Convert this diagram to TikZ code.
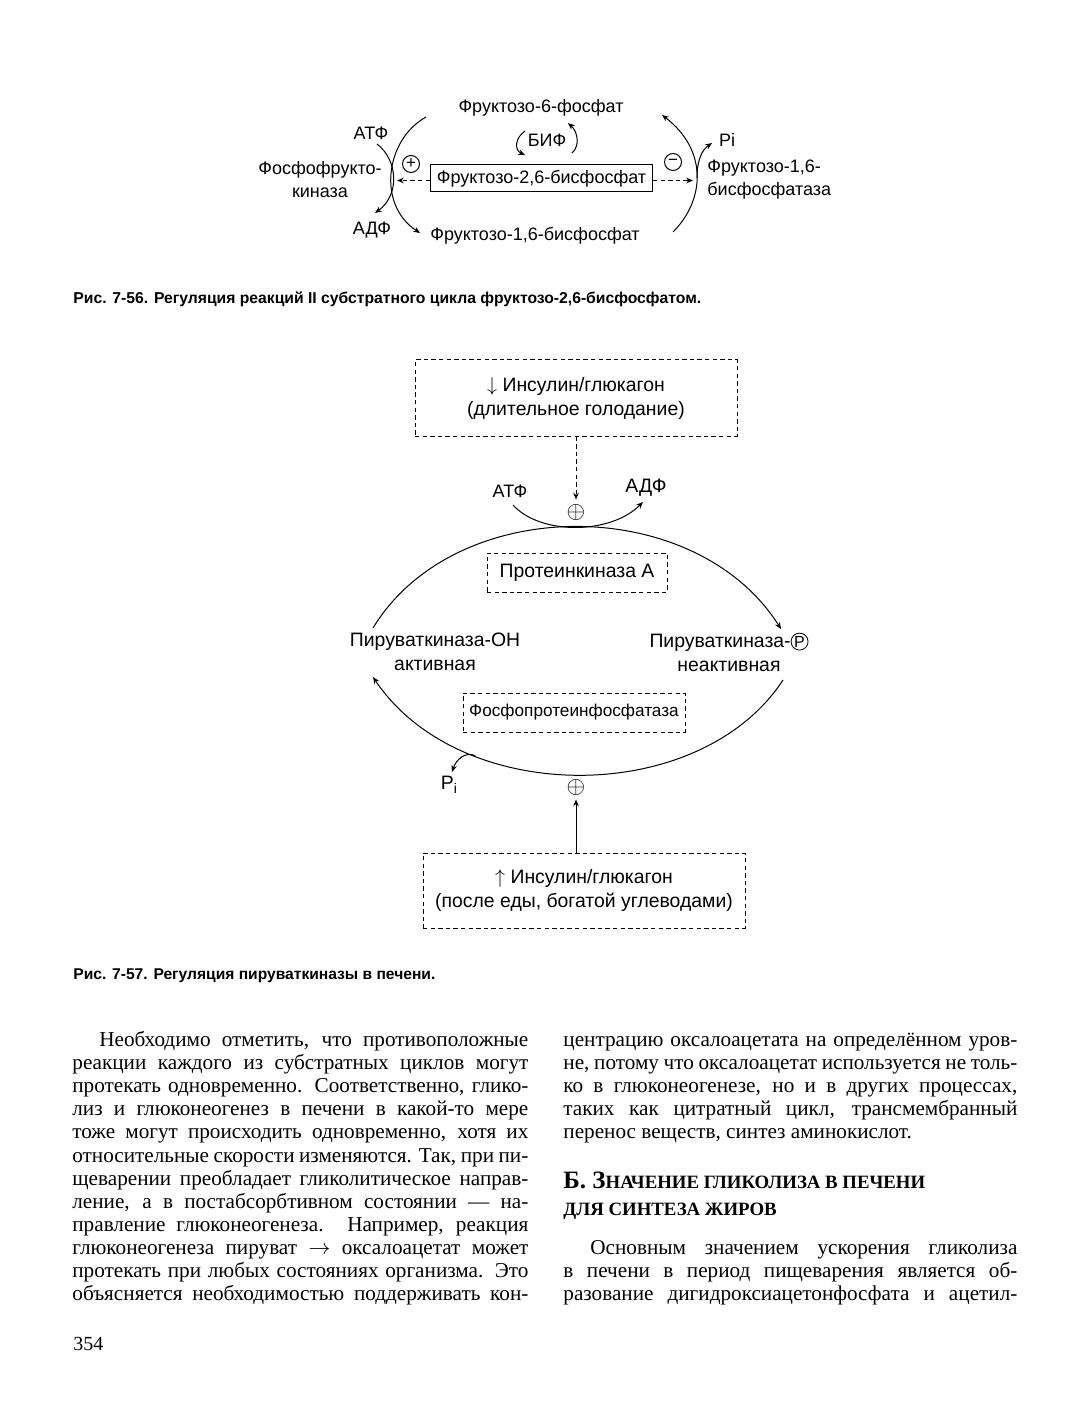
\documentclass[tikz,border=0pt]{standalone}
\usepackage{fontspec}
\setmainfont{Liberation Serif}
\newfontfamily\figfont{Liberation Sans}
\usetikzlibrary{arrows.meta,positioning}

\newcommand{\circP}{\tikz[baseline=(cp.base)]\node[draw,circle,inner sep=0.3pt,line width=0.4pt] (cp) {\fontsize{8}{8}\selectfont P};}

\tikzset{
lbl/.style={font=\figfont\fontsize{9}{11.5}\selectfont, inner sep=1pt},
lblB/.style={font=\figfont\fontsize{9.7}{12}\selectfont, inner sep=1pt},
dbox/.style={draw, line width=0.5pt, dash pattern=on 2.2pt off 1.6pt, align=center},
arr/.style={line width=0.5pt, -{Stealth[length=3.4pt,width=2.8pt]}},
darr/.style={arr, dash pattern=on 2.2pt off 1.6pt},
signc/.style={draw, circle, line width=0.5pt, inner sep=0pt, minimum size=8.5pt, font=\figfont\fontsize{8.5}{8}\selectfont},
figcap/.style={font=\figfont\bfseries\fontsize{7.85}{9}\selectfont, anchor=base west, inner sep=0pt},
bodyline/.style={font=\fontsize{10.6}{13}\selectfont, anchor=base west, inner sep=0pt, text height=7.5pt, text depth=2pt}
}

\begin{document}
\begin{tikzpicture}[x=0.5pt,y=-0.5pt]
\useasboundingbox (0,0) rectangle (1077,1411);
\fill[white] (0,0) rectangle (1077,1411);

% fig 7-56
\node[lbl] (f6p) at (541,108) {Фруктозо-6-фосфат};
\node[lbl] (atpA) at (371,133) {АТФ};
\node[lbl] (bif) at (547,140) {БИФ};
\node[lbl, align=center] (pfk) at (320,180) {Фосфофрукто-\\киназа};
\node[draw, solid, line width=0.5pt, lbl, minimum width=111pt, minimum height=13.5pt] (f26) at (541.5,178.5) {Фруктозо-2,6-бисфосфат};
\node[signc] (plusA) at (411,164) {+};
\node[signc] (minusA) at (673,162) {−};
\node[lbl] (piA) at (727,140) {Pi};
\node[lbl, align=left, anchor=west] (fbp) at (705,180) {Фруктозо-1,6-\\бисфосфатаза};
\node[lbl] (adpA) at (372,230) {АДФ};
\node[lbl] (f16) at (535,236) {Фруктозо-1,6-бисфосфат};

\coordinate (kinTop) at (426,117);
\coordinate (kinEnd) at (420,233);
\coordinate (atpS) at (377,144);
\coordinate (adpE) at (375,213);
\coordinate (fbpS) at (673,232);
\coordinate (fbpE) at (662,115);
\coordinate (piS) at (697,178);
\coordinate (piE) at (712,143);
\coordinate (kinX) at (397,180.5);
\coordinate (fbpX) at (693,180.5);

\draw[arr] (kinTop) .. controls (385,140) and (377,205) .. (kinEnd);
\draw[arr] (atpS) .. controls (398,160) and (400,195) .. (adpE);
\draw[arr] (fbpS) .. controls (705,200) and (708,150) .. (fbpE);
\draw[arr] (piS) .. controls (697,160) and (702,150) .. (piE);
\draw[arr] (525,131) .. controls (515,138) and (514,150) .. (525,155);
\draw[arr] (572,153) .. controls (580,146) and (578,132) .. (568,123);
\draw[darr] (f26.west |- kinX) -- (kinX);
\draw[darr] (f26.east |- fbpX) -- (fbpX);

\node[figcap] (capA) at (73,304) {Рис. 7-56. Регуляция реакций II субстратного цикла фруктозо-2,6-бисфосфатом.};

% fig 7-57
\node[dbox, lblB, minimum width=161pt, minimum height=38pt] (lowIns) at (576,398) {$\downarrow$ Инсулин/глюкагон\\(длительное голодание)};
\node[dbox, lblB, minimum width=90pt, minimum height=19.5pt] (pka) at (577,572.5) {Протеинкиназа А};
\node[lblB, align=center] (pkOH) at (435,652) {Пируваткиназа-ОН\\активная};
\node[lblB, align=center] (pkP) at (729,652) {Пируваткиназа-\circP\\неактивная};
\node[dbox, lbl, font=\figfont\fontsize{8.6}{11}\selectfont, minimum width=111pt, minimum height=19.5pt] (ppp) at (574,712.5) {Фосфопротеинфосфатаза};
\node[dbox, lblB, minimum width=161pt, minimum height=37.5pt] (highIns) at (584,890.5) {$\uparrow$ Инсулин/глюкагон\\(после еды, богатой углеводами)};
\node[lbl] (atpB) at (510,491) {АТФ};
\node[lblB] (adpB) at (646,488) {АДФ};
\node[inner sep=0pt, scale=1.2] (plusB) at (576,512) {$\oplus$};
\node[inner sep=0pt, scale=1.2] (plusC) at (576,787) {$\oplus$};
\node[lblB] (piB) at (449,785) {P\raisebox{-2pt}{\fontsize{7}{7}\selectfont i}};

\coordinate (upL) at (373,628);
\coordinate (upR) at (781,629);
\coordinate (loR) at (783,680);
\coordinate (loL) at (373,677);
\coordinate (atpBS) at (513,505);
\coordinate (adpBE) at (643,502);
\coordinate (piBE) at (452,772);

\draw[arr] (upL) .. controls (455,493) and (695,493) .. (upR);
\draw[arr] (atpBS) .. controls (540,535) and (610,535) .. (adpBE);
\draw[arr] (loR) .. controls (700,807) and (460,807) .. coordinate[pos=0.72] (piBS) (loL);
\draw[arr] (piBS) .. controls (465,751) and (456,760) .. (piBE);
\draw[darr] (lowIns.south -| plusB) -- ([yshift=2pt]plusB.north);
\draw[arr] (highIns.north -| plusC) -- ([yshift=-2pt]plusC.south);

\node[figcap, font=\figfont\bfseries\fontsize{7.8}{9}\selectfont] (capB) at (73,979) {Рис. 7-57. Регуляция пируваткиназы в печени.};

% text
\foreach \ln [count=\i] in {
{\hspace*{13.5pt}Необходимо отметить, что противоположные},
{реакции каждого из субстратных циклов могут},
{протекать одновременно. Соответственно, глико-},
{лиз и глюконеогенез в печени в какой-то мере},
{тоже могут происходить одновременно, хотя их},
{относительные скорости изменяются. Так, при пи-},
{щеварении преобладает гликолитическое направ-},
{ление, а в постабсорбтивном состоянии — на-},
{правление глюконеогенеза. Например, реакция},
{глюконеогенеза пируват $\rightarrow$ оксалоацетат может},
{протекать при любых состояниях организма. Это},
{объясняется необходимостью поддерживать кон-}}
\node[bodyline] (left\i) at (72,{1046.5+23.1*(\i-1)}) {\makebox[228pt][s]{\ln}};

\foreach \ln [count=\i] in {
{центрацию оксалоацетата на определённом уров-},
{не, потому что оксалоацетат используется не толь-},
{ко в глюконеогенезе, но и в других процессах,},
{таких как цитратный цикл, трансмембранный},
{перенос веществ, синтез аминокислот.\hfill}}
\node[bodyline] (right\i) at (563,{1046.5+23.1*(\i-1)}) {\makebox[227pt][s]{\ln}};

\node[bodyline] (headA) at (563,1188) {\bfseries\fontsize{12.5}{14}\selectfont Б. З\fontsize{9.4}{14}\selectfont НАЧЕНИЕ ГЛИКОЛИЗА В ПЕЧЕНИ};
\node[bodyline] (headB) at (563,1215) {\bfseries\fontsize{9.4}{14}\selectfont ДЛЯ СИНТЕЗА ЖИРОВ};

\foreach \ln [count=\i from 10] in {
{\hspace*{13.5pt}Основным значением ускорения гликолиза},
{в печени в период пищеварения является об-},
{разование дигидроксиацетонфосфата и ацетил-}}
\node[bodyline] (right\i) at (563,{1046.5+23.1*(\i-1)}) {\makebox[227pt][s]{\ln}};

\node[bodyline, font=\fontsize{10}{12}\selectfont] (pageno) at (73,1350) {354};

\end{tikzpicture}
\end{document}
